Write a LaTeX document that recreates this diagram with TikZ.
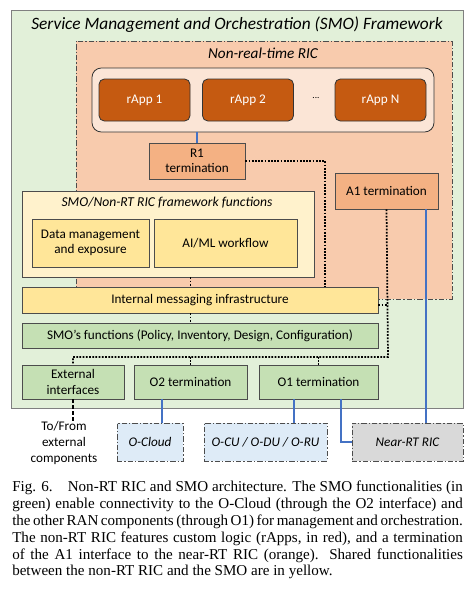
\documentclass[tikz,border=0pt]{standalone}
\usepackage{fontspec}
\setmainfont{Carlito}
\newfontfamily\capfont{Liberation Serif}
\usetikzlibrary{positioning}
\definecolor{smogreen}{HTML}{E2F0D9}
\definecolor{smobox}{HTML}{C5E0B4}
\definecolor{ricpeach}{HTML}{F8CBAD}
\definecolor{rappbg}{HTML}{FBE5D6}
\definecolor{rappred}{HTML}{C55A11}
\definecolor{termorange}{HTML}{F4B183}
\definecolor{fwyellow}{HTML}{FFF2CC}
\definecolor{sharedyellow}{HTML}{FFE699}
\definecolor{extblue}{HTML}{DEEBF7}
\definecolor{extgray}{HTML}{D9D9D9}
\definecolor{linkblue}{HTML}{4472C4}
\tikzset{font=\fontsize{9.9}{11.5}\selectfont}
\tikzset{box/.style={draw=black!70, line width=0.6pt, align=center, inner sep=0pt}}
\tikzset{boxtitle/.style={font=\fontsize{10.2}{12}\selectfont\itshape}}
\tikzset{dashdot/.style={dash pattern=on 4pt off 1.5pt on 1pt off 1.5pt}}
\tikzset{dots/.style={line width=1.3pt, dash pattern=on 1.3pt off 1.1pt}}
\tikzset{blueline/.style={draw=linkblue, line width=1.5pt}}

\begin{document}
\begin{tikzpicture}[x=0.75pt, y=-0.75pt]
  \useasboundingbox (0,0) rectangle (472,593);

  % SMO framework
  \node[box, draw=black!50, fill=smogreen, minimum width=339pt, minimum height=298.5pt] (smo) at (237,209) {};
  \node[font=\fontsize{13}{14}\selectfont\itshape] (smotitle) at (237,25) {Service Management and Orchestration (SMO) Framework};

  % non-RT RIC
  \node[box, dashdot, fill=ricpeach, minimum width=282pt, minimum height=193.5pt] (nrt) at (264,170) {};
  \node[boxtitle, font=\fontsize{11.4}{12}\selectfont\itshape] (nrttitle) at (263,53) {Non-real-time RIC};

  \node[box, draw=black!80, fill=rappbg, rounded corners=7pt, minimum width=256.5pt, minimum height=48pt] (rapps) at (263,100) {};
  \foreach \x/\n/\t in {144.5/1/rApp 1, 248/2/rApp 2, 380.5/N/rApp N}{
    \node[box, draw=black!80, fill=rappred, text=white, rounded corners=4pt,
          minimum width=68.25pt, minimum height=31.5pt] (rapp\n) at (\x,100) {\t};
  };
  \node[font=\fontsize{7}{8}\selectfont] (rappdots) at (316,98) {...};

  \node[box, fill=termorange, minimum width=72pt, minimum height=27pt] (r1) at (197,161) {R1\\termination};
  \node[box, fill=termorange, minimum width=77.25pt, minimum height=27pt] (a1) at (386.5,191) {A1 termination};

  % shared functions
  \node[box, fill=fwyellow, minimum width=219pt, minimum height=64.5pt] (fw) at (168,234) {};
  \node[boxtitle] (fwtitle) at (167,203) {SMO/Non-RT RIC framework functions};
  \node[box, fill=sharedyellow, minimum width=87.75pt, minimum height=36pt] (data) at (90.5,243) {Data management\\and exposure};
  \node[box, fill=sharedyellow, minimum width=107.25pt, minimum height=36pt] (aiml) at (225.5,243) {AI/ML workflow};
  \node[box, fill=sharedyellow, minimum width=267pt, minimum height=19.5pt] (msg) at (200,300) {Internal messaging infrastructure};

  % SMO functions
  \node[box, fill=smobox, minimum width=267pt, minimum height=18.75pt] (smof) at (200,335.5) {SMO's functions (Policy, Inventory, Design, Configuration)};
  \node[box, fill=smobox, minimum width=76.5pt, minimum height=25.5pt] (ext) at (73,382) {External\\interfaces};
  \node[box, fill=smobox, minimum width=84.75pt, minimum height=25.5pt] (o2) at (190.5,382) {O2 termination};
  \node[box, fill=smobox, minimum width=89.25pt, minimum height=25.5pt] (o1) at (318.5,382) {O1 termination};

  % outside components
  \node[box, dashdot, fill=extblue, font=\fontsize{9.9}{11.5}\selectfont\itshape, minimum width=49.5pt, minimum height=28.5pt] (ocloud) at (150,442) {O-Cloud};
  \node[box, dashdot, fill=extblue, font=\fontsize{9.9}{11.5}\selectfont\itshape, minimum width=92.25pt, minimum height=28.5pt] (oran) at (265.5,442) {O-CU / O-DU / O-RU};
  \node[box, dashdot, fill=extgray, font=\fontsize{9.9}{11.5}\selectfont\itshape, minimum width=83.25pt, minimum height=28.5pt] (nearrt) at (407.5,442) {Near-RT RIC};
  \node[align=center, inner sep=0pt, font=\fontsize{9.9}{12}\selectfont] (extcomp) at (64,443) {To/From\\external\\components};

  % internal links
  \coordinate (r1bend) at (325,161);
  \coordinate (bus) at (388,357);
  \draw[dots] (r1.east) -- (r1bend) -- (r1bend |- msg.north);
  \draw[dots] (fw.south -| o2.north) -- (msg.north -| o2.north);
  \draw[dots] (msg.south -| o2.north) -- (smof.north -| o2.north);
  \draw[dots] (a1.south) -- (bus) -- (bus -| ext.north) -- (ext.north);
  \draw[dots] (bus -| o2.north) -- (o2.north);
  \draw[dots] (bus -| o1.north) -- (o1.north);
  \draw[dots] ([yshift=-3.5pt]msg.east) -- ([yshift=-3.5pt]msg.east -| bus);

  % interfaces
  \draw[blueline] (r1.north) -- (r1.north |- rapps.south);
  \draw[blueline] ([xshift=-9pt]a1.south east) -- ([xshift=-9pt]a1.south east |- nearrt.north);
  \draw[blueline] ([xshift=9pt]ocloud.north) -- ([xshift=9pt]ocloud.north |- o2.south);
  \draw[blueline] ([xshift=21pt]oran.north) -- ([xshift=21pt]oran.north |- o1.south);
  \draw[blueline] ([xshift=17pt]o1.south) |- (nearrt.west);
  \draw[line width=1.5pt, dash pattern=on 3pt off 1.5pt] (ext.south) -- (ext.south |- extcomp.north);

  % caption
  \node[anchor=north west, inner sep=0pt, text width=338pt, align=justify,
        font=\capfont\fontsize{11.3}{12.6}\selectfont] (caption) at (12,481)
    {\hyphenpenalty=10000\relax
     Fig. 6.\quad Non-RT RIC and SMO architecture. The SMO functionalities (in\linebreak
     green) enable connectivity to the O-Cloud (through the O2 interface) and\linebreak
     the other RAN components (through O1) for management and orchestration.\linebreak
     The non-RT RIC features custom logic (rApps, in red), and a termination\linebreak
     of the A1 interface to the near-RT RIC (orange). Shared functionalities\linebreak
     between the non-RT RIC and the SMO are in yellow.};
\end{tikzpicture}
\end{document}
